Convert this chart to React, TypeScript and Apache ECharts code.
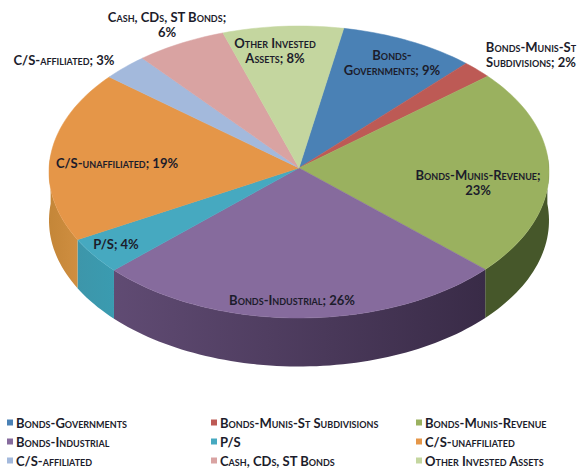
import React, { useEffect, useRef } from "react";
import * as echarts from "echarts";

const categories = [
  "Bonds-Governments",
  "Bonds-Munis-St Subdivisions",
  "Bonds-Munis-Revenue",
  "Bonds-Industrial",
  "P/S",
  "C/S-unaffiliated",
  "C/S-affiliated",
  "Cash, CDs, ST Bonds",
  "Other Invested Assets",
];
const percents = [9, 2, 23, 26, 4, 19, 3, 6, 8];
const labelTexts = [
  "Bonds-\nGovernments; 9%",
  "Bonds-Munis-St\nSubdivisions; 2%",
  "Bonds-Munis-Revenue;\n23%",
  "Bonds-Industrial; 26%",
  "P/S; 4%",
  "C/S-unaffiliated; 19%",
  "C/S-affiliated; 3%",
  "Cash, CDs, ST Bonds;\n6%",
  "Other Invested\nAssets; 8%",
];
const topColors = ["#4a81b5", "#bd5a55", "#9ab15f", "#866b9d", "#46a9c0", "#e59648", "#a3b9dc", "#d9a3a2", "#c4d69f"];
const sideColors: [string, string][] = [
  ["#2f5375", "#2f5375"],
  ["#7a3a37", "#7a3a37"],
  ["#46572a", "#46572a"],
  ["#604b73", "#392b47"],
  ["#3d96aa", "#3a9bb0"],
  ["#c48638", "#cf8e40"],
  ["#7f90ab", "#7f90ab"],
  ["#a97f7e", "#a97f7e"],
  ["#98a67b", "#98a67b"],
];
const legendColumns = [
  [categories[0], categories[3], categories[6]],
  [categories[1], categories[4], categories[7]],
  [categories[2], categories[5], categories[8]],
];

// layout: the top face is an ellipse, its apex sits slightly behind the ellipse centre (perspective)
const CX = 299;
const CY = 172;
const RX = 250;
const RY = 146;
const APEX_UP = 4;
const DEPTH = 48.5;
const START_DEG = 10.6;
const TOTAL = percents.reduce((a, b) => a + b, 0);
const LABEL_XY = [
  [392, 62.5],
  [531, 54.5],
  [478, 182.5],
  [292, 300],
  [116, 244],
  [117, 163],
  [64, 60],
  [167, 24.5],
  [275, 50.5],
];
const LEGEND_X = [7, 211, 416];
const FONT = "Lato, 'Open Sans', sans-serif";
const TEXT_COLOR = "#1c1c2b";

function rim(deg: number): [number, number] {
  const t = (deg * Math.PI) / 180;
  const e = APEX_UP / RY;
  const c = Math.cos(t);
  const s = -e * c + Math.sqrt(e * e * c * c + 1 - e * e);
  return [CX + RX * s * Math.sin(t), CY + RY * (-e - s * c)];
}

function arc(from: number, to: number): [number, number][] {
  const pts: [number, number][] = [];
  const n = Math.max(2, Math.ceil((to - from) / 1.5));
  for (let i = 0; i <= n; i++) pts.push(rim(from + ((to - from) * i) / n));
  return pts;
}

function sliceRange(index: number): [number, number] {
  const before = percents.slice(0, index).reduce((a, b) => a + b, 0);
  const from = START_DEG + (before / TOTAL) * 360;
  return [from, from + (percents[index] / TOTAL) * 360];
}

function sliceItem(index: number) {
  const [from, to] = sliceRange(index);
  const children: any[] = [];
  const a = Math.max(from, 85);
  const b = Math.min(to, 275);
  if (b > a) {
    const upper = arc(a, b);
    const lower = upper.map(([x, y]) => [x, y + DEPTH]).reverse();
    children.push({
      type: "polygon",
      z2: 1,
      shape: { points: [...upper, ...lower] },
      style: {
        fill: new echarts.graphic.LinearGradient(0, 0, 1, 0, [
          { offset: 0, color: sideColors[index][0] },
          { offset: 1, color: sideColors[index][1] },
        ]),
      },
    });
  }
  children.push({
    type: "polygon",
    z2: 2,
    shape: { points: [[CX, CY - APEX_UP], ...arc(from, to)] },
    style: { fill: topColors[index], stroke: topColors[index], lineWidth: 0.5 },
  });
  children.push({
    type: "text",
    z2: 10,
    x: LABEL_XY[index][0],
    y: LABEL_XY[index][1],
    style: {
      text: labelTexts[index],
      align: "center",
      verticalAlign: "middle",
      fontFamily: FONT,
      fontSize: 13,
      fontWeight: 700,
      lineHeight: 15,
      fill: TEXT_COLOR,
    },
  });
  return { type: "group", children };
}

export default function App() {
  const ref = useRef<HTMLDivElement>(null);
  useEffect(() => {
    const chart = echarts.init(ref.current!, undefined, { renderer: "svg" });
    chart.setOption({
      animation: false,
      backgroundColor: "#ffffff",
      legend: legendColumns.map((names, i) => ({
        data: names,
        orient: "vertical",
        left: LEGEND_X[i],
        top: 416,
        padding: 0,
        itemWidth: 6,
        itemHeight: 6,
        itemGap: 6,
        icon: "rect",
        selectedMode: false,
        textStyle: {
          fontFamily: FONT,
          fontSize: 13,
          fontWeight: 700,
          color: TEXT_COLOR,
          padding: [0, 0, 0, -2],
        },
      })),
      series: categories.map((name, i) => ({
        type: "custom",
        name,
        coordinateSystem: "none",
        silent: true,
        itemStyle: { color: topColors[i] },
        data: [{ name, value: percents[i] }],
        renderItem: () => sliceItem(i),
      })),
    });
    return () => chart.dispose();
  }, []);
  return (
    <>
      <style>{"svg text { font-variant: small-caps !important; }"}</style>
      <div ref={ref} style={{ position: "absolute", left: 0, top: 0, width: 579, height: 468 }} />
    </>
  );
}
